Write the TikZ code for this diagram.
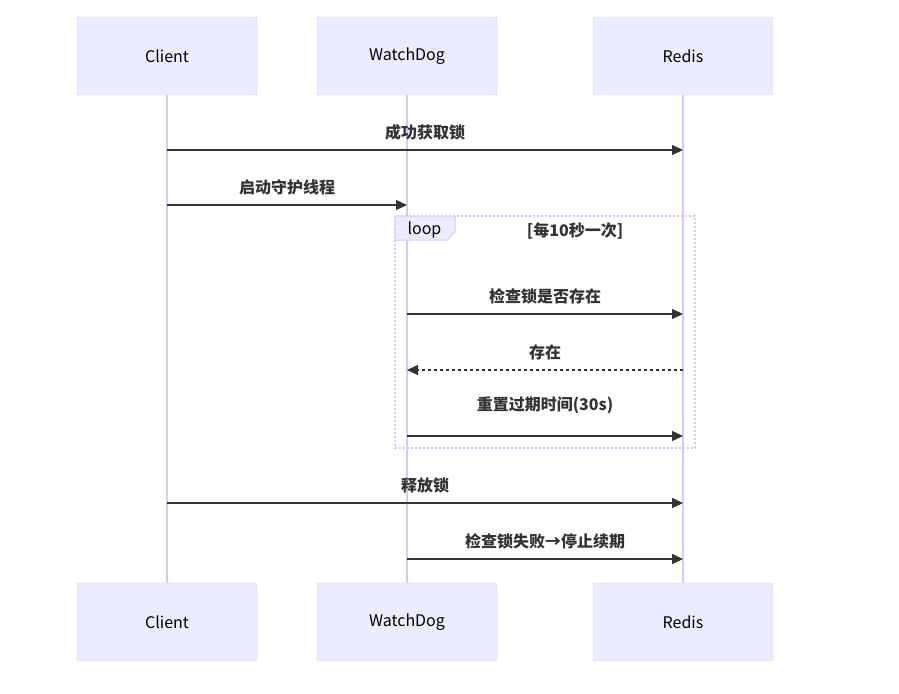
\documentclass[tikz,border=0pt]{standalone}
\usepackage{fontspec}
\setmainfont{Noto Sans CJK SC}
\usetikzlibrary{arrows.meta,positioning}
\definecolor{actorfill}{HTML}{ECECFF}
\definecolor{actorline}{HTML}{CCCCFF}
\definecolor{msgtext}{HTML}{333333}
\tikzset{
  actor/.style={draw=actorline, fill=actorfill, rounded corners=2pt, minimum width=180pt, minimum height=78pt, font=\fontsize{16}{19}\selectfont, text=black},
  msg/.style={draw=msgtext, line width=1.3pt, -{Triangle[length=11pt,width=10pt]}},
  reply/.style={msg, dash pattern=on 3pt off 3pt},
  msglabel/.style={font=\fontsize{16}{19}\selectfont\bfseries, text=msgtext},
  life/.style={draw=actorline, line width=1.5pt}
}
\begin{document}
\begin{tikzpicture}[x=1pt, y=-1pt]
    \useasboundingbox (0,0) rectangle (899,693);
    % Participants at the top and the bottom
    \foreach \name/\x/\txt in {client/167/Client, dog/407/WatchDog, redis/683/Redis}
    {
        \draw[life] (\x, 95) -- (\x, 583);
        \node[actor] (\name top) at (\x, 56) {\txt};
        \node[actor] (\name bot) at (\x, 622) {\txt};
    }
    % Points on the lifelines for each message
    \foreach \i/\y in {1/150, 2/205, 3/314, 4/370, 5/436, 6/503, 7/559}
    {
        \coordinate (c\i) at (167, \y);
        \coordinate (w\i) at (407, \y);
        \coordinate (r\i) at (683, \y);
    }

    % Loop frame
    \draw[actorline, line width=1.2pt, dash pattern=on 2pt off 2pt] (395, 216) rectangle (695, 448);
    \draw[actorline, fill=actorfill, line width=1pt] (395, 216) -- (455, 216) -- (455, 232) -- (447, 240) -- (395, 240) -- cycle;
    \node[font=\fontsize{16}{19}\selectfont, anchor=west] (looplab) at (404, 230) {loop};
    \node[font=\fontsize{16}{19}\selectfont\bfseries, text=msgtext] (loopcond) at (575, 231) {[每10秒一次]};

    % Messages
    \draw[msg] (c1) -- (r1) node[msglabel, midway, above=6pt] (m1) {成功获取锁};
    \draw[msg] (c2) -- (w2) node[msglabel, midway, above=6pt] (m2) {启动守护线程};
    \draw[msg] (w3) -- (r3) node[msglabel, midway, above=6pt] (m3) {检查锁是否存在};
    \draw[reply] (r4) -- (w4) node[msglabel, midway, above=6pt] (m4) {存在};
    \draw[msg] (w5) -- (r5) node[msglabel, midway, above=18pt] (m5) {重置过期时间(30s)};
    \draw[msg] (c6) -- (r6) node[msglabel, midway, above=6pt] (m6) {释放锁};
    \draw[msg] (w7) -- (r7) node[msglabel, midway, above=6pt] (m7) {检查锁失败→停止续期};
\end{tikzpicture}
\end{document}
